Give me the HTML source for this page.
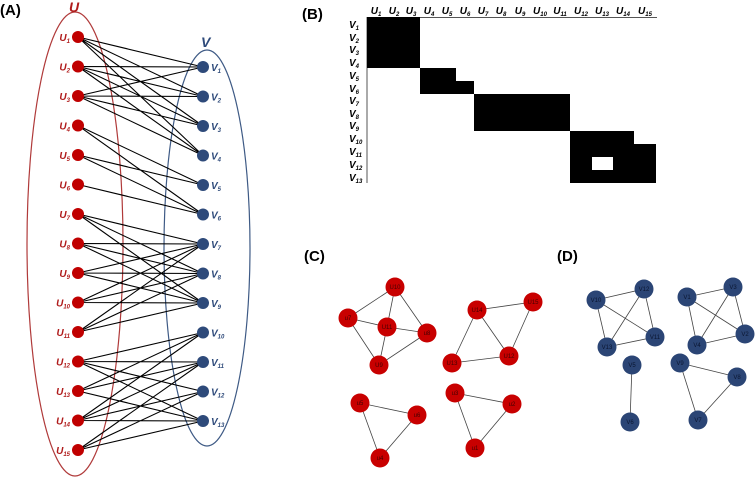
<!DOCTYPE html>
<html><head><meta charset="utf-8"><style>
html,body{margin:0;padding:0;background:#fff;width:755px;height:477px;overflow:hidden}
svg{display:block;font-family:"Liberation Sans",sans-serif}
.pl{font-weight:bold;font-size:15px;fill:#000}
.ul{fill:#b01c1c;font-style:italic;font-weight:bold;font-size:10px}
.vl{fill:#2e4a7a;font-style:italic;font-weight:bold;font-size:10px}
.ml{fill:#000;font-style:italic;font-weight:bold;font-size:10px}
.nl{font-size:6px;fill:#400;text-anchor:middle}
.bl{font-size:6px;fill:#0a1530;text-anchor:middle}
</style></head><body>
<svg width="755" height="477" viewBox="0 0 755 477">
<text x="0" y="15" class="pl">(A)</text>
<text x="302" y="19" class="pl">(B)</text>
<text x="304" y="261" class="pl">(C)</text>
<text x="557" y="261" class="pl">(D)</text>

<!-- Panel A -->
<ellipse cx="75" cy="244" rx="48" ry="232" fill="none" stroke="#b03a3a" stroke-width="1.2"/>
<ellipse cx="207" cy="248" rx="43" ry="198" fill="none" stroke="#3e5a85" stroke-width="1.2"/>
<text x="69" y="12" class="ul" style="font-size:14px">U</text>
<text x="201" y="47" class="vl" style="font-size:14px">V</text>
<path stroke="#000" stroke-width="1.1" fill="none" d="
M78 37L203 67M78 37L203 96.5M78 37L203 126M78 37L203 155.5
M78 66.5L203 67M78 66.5L203 96.5M78 66.5L203 126M78 66.5L203 155.5
M78 96L203 67M78 96L203 96.5M78 96L203 126M78 96L203 155.5
M78 125.5L203 185M78 125.5L203 214.5M78 155L203 185M78 155L203 214.5M78 184.5L203 214.5
M78 214L203 244M78 214L203 273.5M78 214L203 303
M78 243.5L203 244M78 243.5L203 273.5M78 243.5L203 303
M78 273L203 244M78 273L203 273.5M78 273L203 303
M78 302.5L203 244M78 302.5L203 273.5M78 302.5L203 303
M78 332L203 244M78 332L203 273.5M78 332L203 303
M78 361.5L203 332.5M78 361.5L203 362M78 361.5L203 391.5M78 361.5L203 421
M78 391L203 332.5M78 391L203 362M78 391L203 421
M78 420.5L203 332.5M78 420.5L203 362M78 420.5L203 391.5M78 420.5L203 421
M78 450L203 362M78 450L203 391.5M78 450L203 421"/>
<g fill="#c00000">
<circle cx="78" cy="37" r="6"/><circle cx="78" cy="66.5" r="6"/><circle cx="78" cy="96" r="6"/><circle cx="78" cy="125.5" r="6"/><circle cx="78" cy="155" r="6"/><circle cx="78" cy="184.5" r="6"/><circle cx="78" cy="214" r="6"/><circle cx="78" cy="243.5" r="6"/><circle cx="78" cy="273" r="6"/><circle cx="78" cy="302.5" r="6"/><circle cx="78" cy="332" r="6"/><circle cx="78" cy="361.5" r="6"/><circle cx="78" cy="391" r="6"/><circle cx="78" cy="420.5" r="6"/><circle cx="78" cy="450" r="6"/>
</g>
<g fill="#2e4a7a">
<circle cx="203" cy="67" r="6"/><circle cx="203" cy="96.5" r="6"/><circle cx="203" cy="126" r="6"/><circle cx="203" cy="155.5" r="6"/><circle cx="203" cy="185" r="6"/><circle cx="203" cy="214.5" r="6"/><circle cx="203" cy="244" r="6"/><circle cx="203" cy="273.5" r="6"/><circle cx="203" cy="303" r="6"/><circle cx="203" cy="332.5" r="6"/><circle cx="203" cy="362" r="6"/><circle cx="203" cy="391.5" r="6"/><circle cx="203" cy="421" r="6"/>
</g>
<g class="ul" text-anchor="end">
<text x="70" y="41">U<tspan font-size="6" dy="2">1</tspan></text>
<text x="70" y="70.5">U<tspan font-size="6" dy="2">2</tspan></text>
<text x="70" y="100">U<tspan font-size="6" dy="2">3</tspan></text>
<text x="70" y="129.5">U<tspan font-size="6" dy="2">4</tspan></text>
<text x="70" y="159">U<tspan font-size="6" dy="2">5</tspan></text>
<text x="70" y="188.5">U<tspan font-size="6" dy="2">6</tspan></text>
<text x="70" y="218">U<tspan font-size="6" dy="2">7</tspan></text>
<text x="70" y="247.5">U<tspan font-size="6" dy="2">8</tspan></text>
<text x="70" y="277">U<tspan font-size="6" dy="2">9</tspan></text>
<text x="70" y="306.5">U<tspan font-size="6" dy="2">10</tspan></text>
<text x="70" y="336">U<tspan font-size="6" dy="2">11</tspan></text>
<text x="70" y="365.5">U<tspan font-size="6" dy="2">12</tspan></text>
<text x="70" y="395">U<tspan font-size="6" dy="2">13</tspan></text>
<text x="70" y="424.5">U<tspan font-size="6" dy="2">14</tspan></text>
<text x="70" y="454">U<tspan font-size="6" dy="2">15</tspan></text>
</g>
<g class="vl">
<text x="211" y="71">V<tspan font-size="6" dy="2">1</tspan></text>
<text x="211" y="100.5">V<tspan font-size="6" dy="2">2</tspan></text>
<text x="211" y="130">V<tspan font-size="6" dy="2">3</tspan></text>
<text x="211" y="159.5">V<tspan font-size="6" dy="2">4</tspan></text>
<text x="211" y="189">V<tspan font-size="6" dy="2">5</tspan></text>
<text x="211" y="218.5">V<tspan font-size="6" dy="2">6</tspan></text>
<text x="211" y="248">V<tspan font-size="6" dy="2">7</tspan></text>
<text x="211" y="277.5">V<tspan font-size="6" dy="2">8</tspan></text>
<text x="211" y="307">V<tspan font-size="6" dy="2">9</tspan></text>
<text x="211" y="336.5">V<tspan font-size="6" dy="2">10</tspan></text>
<text x="211" y="366">V<tspan font-size="6" dy="2">11</tspan></text>
<text x="211" y="395.5">V<tspan font-size="6" dy="2">12</tspan></text>
<text x="211" y="425">V<tspan font-size="6" dy="2">13</tspan></text>
</g>

<!-- Panel B -->
<line x1="367" y1="17.5" x2="657" y2="17.5" stroke="#555" stroke-width="1"/>
<line x1="367" y1="17" x2="367" y2="183" stroke="#555" stroke-width="1"/>
<g fill="#000">
<rect x="367" y="17" width="53" height="51"/>
<rect x="420" y="68" width="36" height="13"/>
<rect x="420" y="81" width="54" height="13"/>
<rect x="474" y="94" width="96" height="37"/>
<rect x="570" y="131" width="64" height="13"/>
<rect x="570" y="144" width="86" height="39"/>
</g>
<rect x="592" y="157" width="21" height="13" fill="#fff"/>
<g class="ml" text-anchor="middle">
<text x="376" y="14">U<tspan font-size="6" dy="2">1</tspan></text>
<text x="394" y="14">U<tspan font-size="6" dy="2">2</tspan></text>
<text x="411" y="14">U<tspan font-size="6" dy="2">3</tspan></text>
<text x="429" y="14">U<tspan font-size="6" dy="2">4</tspan></text>
<text x="447" y="14">U<tspan font-size="6" dy="2">5</tspan></text>
<text x="465" y="14">U<tspan font-size="6" dy="2">6</tspan></text>
<text x="483" y="14">U<tspan font-size="6" dy="2">7</tspan></text>
<text x="501" y="14">U<tspan font-size="6" dy="2">8</tspan></text>
<text x="520" y="14">U<tspan font-size="6" dy="2">9</tspan></text>
<text x="540" y="14">U<tspan font-size="6" dy="2">10</tspan></text>
<text x="560" y="14">U<tspan font-size="6" dy="2">11</tspan></text>
<text x="581" y="14">U<tspan font-size="6" dy="2">12</tspan></text>
<text x="602" y="14">U<tspan font-size="6" dy="2">13</tspan></text>
<text x="623" y="14">U<tspan font-size="6" dy="2">14</tspan></text>
<text x="645" y="14">U<tspan font-size="6" dy="2">15</tspan></text>
</g>
<g class="ml">
<text x="349" y="28">V<tspan font-size="6" dy="2">1</tspan></text>
<text x="349" y="41">V<tspan font-size="6" dy="2">2</tspan></text>
<text x="349" y="53">V<tspan font-size="6" dy="2">3</tspan></text>
<text x="349" y="66">V<tspan font-size="6" dy="2">4</tspan></text>
<text x="349" y="79">V<tspan font-size="6" dy="2">5</tspan></text>
<text x="349" y="92">V<tspan font-size="6" dy="2">6</tspan></text>
<text x="349" y="104">V<tspan font-size="6" dy="2">7</tspan></text>
<text x="349" y="117">V<tspan font-size="6" dy="2">8</tspan></text>
<text x="349" y="129">V<tspan font-size="6" dy="2">9</tspan></text>
<text x="349" y="142">V<tspan font-size="6" dy="2">10</tspan></text>
<text x="349" y="155">V<tspan font-size="6" dy="2">11</tspan></text>
<text x="349" y="168">V<tspan font-size="6" dy="2">12</tspan></text>
<text x="349" y="181">V<tspan font-size="6" dy="2">13</tspan></text>
</g>

<!-- Panel C -->
<path stroke="#444" stroke-width="0.8" fill="none" d="
M348 318L395 287M395 287L387 327M395 287L427 333M348 318L387 327M387 327L427 333M348 318L379 365M387 327L379 365M379 365L427 333
M477 310L533 302M477 310L509 356M533 302L509 356M477 310L452 363M452 363L509 356
M360 403L417 415M360 403L380 458M417 415L380 458
M455 393L512 404M455 393L475 448M512 404L475 448"/>
<g fill="#c80000">
<circle cx="395" cy="287" r="9.5"/><circle cx="348" cy="318" r="9.5"/><circle cx="387" cy="327" r="9.5"/><circle cx="427" cy="333" r="9.5"/><circle cx="379" cy="365" r="9.5"/>
<circle cx="477" cy="310" r="9.5"/><circle cx="533" cy="302" r="9.5"/><circle cx="509" cy="356" r="9.5"/><circle cx="452" cy="363" r="9.5"/>
<circle cx="360" cy="403" r="9.5"/><circle cx="417" cy="415" r="9.5"/><circle cx="380" cy="458" r="9.5"/>
<circle cx="455" cy="393" r="9.5"/><circle cx="512" cy="404" r="9.5"/><circle cx="475" cy="448" r="9.5"/>
</g>
<g class="nl">
<text x="395" y="289">U10</text><text x="348" y="320">u7</text><text x="387" y="329">U11</text><text x="427" y="335">u8</text><text x="379" y="367">U9</text>
<text x="477" y="312">U14</text><text x="533" y="304">U15</text><text x="509" y="358">U12</text><text x="452" y="365">U13</text>
<text x="360" y="405">u5</text><text x="417" y="417">u6</text><text x="380" y="460">u4</text>
<text x="455" y="395">u3</text><text x="512" y="406">u2</text><text x="475" y="450">u1</text>
</g>

<!-- Panel D -->
<path stroke="#444" stroke-width="0.8" fill="none" d="
M596 300L644 289M596 300L607 347M596 300L655 337M644 289L607 347M644 289L655 337M607 347L655 337
M687 297L733 287M687 297L697 345M687 297L745 334M733 287L697 345M733 287L745 334M697 345L745 334
M632 365L630 422
M680 363L737 377M680 363L698 420M737 377L698 420"/>
<g fill="#2b4575">
<circle cx="596" cy="300" r="9.5"/><circle cx="644" cy="289" r="9.5"/><circle cx="655" cy="337" r="9.5"/><circle cx="607" cy="347" r="9.5"/>
<circle cx="687" cy="297" r="9.5"/><circle cx="733" cy="287" r="9.5"/><circle cx="745" cy="334" r="9.5"/><circle cx="697" cy="345" r="9.5"/>
<circle cx="632" cy="365" r="9.5"/><circle cx="630" cy="422" r="9.5"/>
<circle cx="680" cy="363" r="9.5"/><circle cx="737" cy="377" r="9.5"/><circle cx="698" cy="420" r="9.5"/>
</g>
<g class="bl">
<text x="596" y="302">V10</text><text x="644" y="291">V12</text><text x="655" y="339">V11</text><text x="607" y="349">V13</text>
<text x="687" y="299">V1</text><text x="733" y="289">V3</text><text x="745" y="336">V2</text><text x="697" y="347">V4</text>
<text x="632" y="367">V5</text><text x="630" y="424">V6</text>
<text x="680" y="365">V9</text><text x="737" y="379">V8</text><text x="698" y="422">V7</text>
</g>
</svg>
</body></html>
